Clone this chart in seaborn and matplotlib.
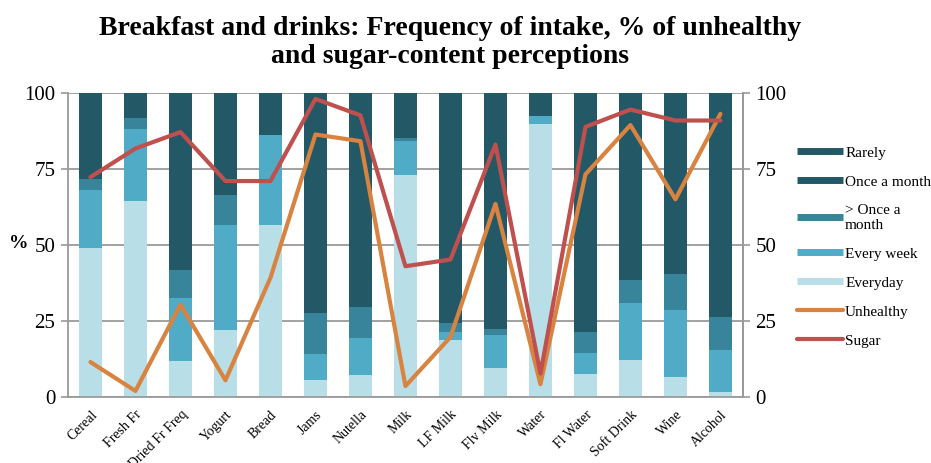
import numpy as np
import pandas as pd
import matplotlib.pyplot as plt
import seaborn as sns
from matplotlib.lines import Line2D

# values (percent of respondents)
items = ["Cereal", "Fresh Fr", "Dried Fr Freq", "Yogurt", "Bread", "Jams", "Nutella",
         "Milk", "LF Milk", "Flv Milk", "Water", "Fl Water", "Soft Drink", "Wine", "Alcohol"]
everyday = [49.1, 64.4, 12.0, 22.1, 56.7, 5.5, 7.4, 72.9, 18.6, 9.6, 89.8, 7.7, 12.3, 6.6, 1.8]
every_week = [19.1, 23.8, 20.5, 34.6, 29.3, 8.7, 12.1, 11.4, 2.9, 10.8, 2.5, 6.9, 18.6, 22.0, 13.8]
more_than_monthly = [3.5, 3.6, 9.2, 9.6, 0.0, 13.4, 10.1, 0.9, 2.8, 1.8, 0.0, 6.9, 7.5, 12.0, 10.7]
unhealthy = [11.5, 2.0, 30.4, 5.5, 39.2, 86.3, 84.1, 3.6, 19.7, 63.5, 4.2, 73.2, 89.4, 65.0, 93.1]
sugar = [72.3, 81.7, 87.1, 71.0, 71.0, 98.0, 92.6, 43.0, 45.2, 83.0, 7.7, 88.8, 94.5, 90.9, 90.9]

df = pd.DataFrame({"item": items, "everyday": everyday, "week": every_week,
                   "more": more_than_monthly, "unhealthy": unhealthy, "sugar": sugar})
df["cum1"] = df["everyday"]
df["cum2"] = df["cum1"] + df["week"]
df["cum3"] = df["cum2"] + df["more"]
# once a month + rarely share the same dark colour and fill the rest of each bar
df["rest"] = 100 - df["cum3"]
df["total"] = df["cum3"] + df["rest"]

c_dark = "#235866"
c_more = "#38849b"
c_week = "#50abc6"
c_day = "#b8dfe8"
c_unh = "#d98340"
c_sug = "#c0504e"
grid_c = "#9a9a9a"

sns.set_style("white")
plt.rcParams["font.family"] = ["Liberation Serif", "DejaVu Serif"]
plt.rcParams["text.color"] = "black"
plt.rcParams["xtick.labelcolor"] = "black"
plt.rcParams["ytick.labelcolor"] = "black"

fig = plt.figure(figsize=(9.31, 4.63), dpi=100)
ax = fig.add_axes([0.073, 0.1425, 0.725, 0.657])

for col, c in [("total", c_dark), ("cum3", c_more), ("cum2", c_week), ("cum1", c_day)]:
    sns.barplot(data=df, x="item", y=col, color=c, width=0.5, saturation=1,
                errorbar=None, ax=ax, linewidth=0)

x = np.arange(len(items))
sns.lineplot(x=x, y=df["unhealthy"], color=c_unh, linewidth=3, ax=ax)
sns.lineplot(x=x, y=df["sugar"], color=c_sug, linewidth=3, ax=ax)

ax.set_xlim(-0.5, len(items) - 0.5)
ax.set_ylim(0, 100)
ax.set_yticks([0, 25, 50, 75, 100])
ax.set_xlabel("")
ax.set_ylabel("")
ax.set_axisbelow(True)
ax.yaxis.grid(True, color=grid_c, linewidth=1.3)
ax.set_xticks(np.arange(-0.5, len(items), 1), minor=True)
ax.set_xticks(x)
ax.set_xticklabels(items, rotation=45, ha="right", rotation_mode="anchor", fontsize=10)
ax.tick_params(axis="x", which="major", length=0, pad=8)
ax.tick_params(axis="x", which="minor", length=5, color=grid_c, width=1.2)
ax.tick_params(axis="y", length=5, color=grid_c, width=1.2, labelsize=15, pad=4)
for s in ["left", "right", "bottom"]:
    ax.spines[s].set_color(grid_c)
    ax.spines[s].set_linewidth(1.3)
ax.spines["top"].set_visible(False)

ax2 = ax.twinx()
ax2.set_ylim(0, 100)
ax2.set_yticks([0, 25, 50, 75, 100])
ax2.tick_params(axis="y", length=5, color=grid_c, width=1.2, labelsize=15, pad=4)
for s in ["top", "left", "bottom"]:
    ax2.spines[s].set_visible(False)
ax2.spines["right"].set_color(grid_c)
ax2.spines["right"].set_linewidth(1.3)

fig.text(0.02, 0.475, "%", fontsize=14, fontweight="bold", ha="center", va="center")
fig.text(0.483, 0.965, "Breakfast and drinks: Frequency of intake, % of unhealthy\nand sugar-content perceptions",
         fontsize=20, fontweight="bold", ha="center", va="top", linespacing=1.17)

handles = [
    Line2D([], [], color=c_dark, linewidth=5, solid_capstyle="butt"),
    Line2D([], [], color=c_dark, linewidth=5, solid_capstyle="butt"),
    Line2D([], [], color=c_more, linewidth=5, solid_capstyle="butt"),
    Line2D([], [], color=c_week, linewidth=5, solid_capstyle="butt"),
    Line2D([], [], color=c_day, linewidth=5, solid_capstyle="butt"),
    Line2D([], [], color=c_unh, linewidth=3, solid_capstyle="round"),
    Line2D([], [], color=c_sug, linewidth=3, solid_capstyle="round"),
]
labels = ["Rarely", "Once a month", "> Once a\nmonth", "Every week", "Everyday", "Unhealthy", "Sugar"]
fig.legend(handles, labels, loc="center left", bbox_to_anchor=(0.856, 0.467), frameon=False,
           fontsize=11, handlelength=3.0, handletextpad=0.15, labelspacing=1.0,
           borderpad=0, borderaxespad=0)

fig.savefig("out.png", dpi=100)
